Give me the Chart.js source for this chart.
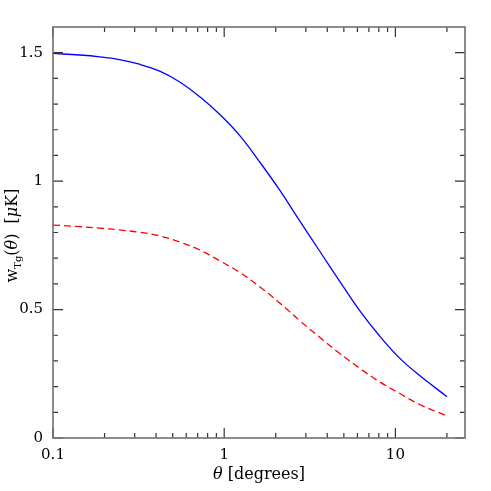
<!DOCTYPE html>
<html>
<head>
<meta charset="utf-8">
<script src="https://cdn.jsdelivr.net/npm/chart.js@4.4.0/dist/chart.umd.min.js"></script>
<style>
    html, body { margin: 0; padding: 0; background: #fff; }
</style>
</head>
<body>
<canvas id="chart" width="491" height="491"></canvas>
<script>
// angles in degrees
const theta = [0.1, 0.143, 0.187, 0.244, 0.32, 0.42, 0.55, 0.72, 0.94, 1.23, 1.61, 2.11, 2.75, 3.6, 4.71, 6.17, 8.07, 10.55, 13.8, 20];
// solid blue curve
const wSolid = [1.497, 1.491, 1.484, 1.473, 1.455, 1.428, 1.386, 1.328, 1.260, 1.178, 1.075, 0.965, 0.847, 0.729, 0.612, 0.497, 0.398, 0.312, 0.244, 0.161];
// dashed red curve
const wDashed = [0.829, 0.823, 0.817, 0.810, 0.801, 0.787, 0.763, 0.732, 0.690, 0.645, 0.589, 0.526, 0.458, 0.393, 0.330, 0.272, 0.219, 0.174, 0.131, 0.086];

const xMajorTicks = [0.1, 1, 10];
const xMinorTicks = [0.2, 0.3, 0.4, 0.5, 0.6, 0.7, 0.8, 0.9, 2, 3, 4, 5, 6, 7, 8, 9, 20];
const yMajorTicks = [0, 0.5, 1, 1.5];
const yMinorTicks = [0.1, 0.2, 0.3, 0.4, 0.6, 0.7, 0.8, 0.9, 1.1, 1.2, 1.3, 1.4];

const SERIF = "'DejaVu Serif', serif";

// frame, inward ticks on all four sides, axis titles
const framePlugin = {
    id: 'frame',
    afterDraw(chart) {
        const ctx = chart.ctx;
        const { left, right, top, bottom } = chart.chartArea;
        const xs = chart.scales.x;
        const ys = chart.scales.y;

        ctx.save();
        ctx.strokeStyle = '#333';
        ctx.lineWidth = 1.2;
        ctx.beginPath();
        const xTick = (v, len) => {
            const p = xs.getPixelForValue(v);
            ctx.moveTo(p, bottom); ctx.lineTo(p, bottom - len);
            ctx.moveTo(p, top); ctx.lineTo(p, top + len);
        };
        const yTick = (v, len) => {
            const p = ys.getPixelForValue(v);
            ctx.moveTo(left, p); ctx.lineTo(left + len, p);
            ctx.moveTo(right, p); ctx.lineTo(right - len, p);
        };
        xMajorTicks.forEach(v => xTick(v, 10));
        xMinorTicks.forEach(v => xTick(v, 5));
        yMajorTicks.forEach(v => yTick(v, 10));
        yMinorTicks.forEach(v => yTick(v, 5));
        ctx.stroke();

        ctx.strokeStyle = '#707070';
        ctx.lineWidth = 1.6;
        ctx.strokeRect(left, top, right - left, bottom - top);

        // x title
        ctx.fillStyle = '#000';
        ctx.textBaseline = 'middle';
        const xParts = [
            { t: 'θ', f: 'italic 16px ' + SERIF },
            { t: ' [degrees]', f: '16px ' + SERIF }
        ];
        let w = 0;
        xParts.forEach(p => { ctx.font = p.f; w += ctx.measureText(p.t).width; });
        let cx = (left + right) / 2 - w / 2;
        ctx.textAlign = 'left';
        xParts.forEach(p => {
            ctx.font = p.f;
            ctx.fillText(p.t, cx, 475);
            cx += ctx.measureText(p.t).width;
        });

        // y title, rotated, with subscript
        const yParts = [
            { t: 'w', f: '16px ' + SERIF, dy: 0 },
            { t: 'Tg', f: '10px ' + SERIF, dy: 5 },
            { t: '(', f: '16px ' + SERIF, dy: 0 },
            { t: 'θ', f: 'italic 16px ' + SERIF, dy: 0 },
            { t: ')  [', f: '16px ' + SERIF, dy: 0 },
            { t: 'μ', f: 'italic 16px ' + SERIF, dy: 0 },
            { t: 'K]', f: '16px ' + SERIF, dy: 0 }
        ];
        w = 0;
        yParts.forEach(p => { ctx.font = p.f; w += ctx.measureText(p.t).width; });
        ctx.translate(13, (top + bottom) / 2 + 3);
        ctx.rotate(-Math.PI / 2);
        cx = -w / 2;
        yParts.forEach(p => {
            ctx.font = p.f;
            ctx.fillText(p.t, cx, p.dy);
            cx += ctx.measureText(p.t).width;
        });
        ctx.restore();
    }
};

new Chart(document.getElementById('chart').getContext('2d'), {
    type: 'line',
    data: {
        datasets: [
            {
                data: theta.map((t, i) => ({ x: t, y: wSolid[i] })),
                borderColor: '#0000ff',
                borderWidth: 1.3,
                pointRadius: 0,
                tension: 0.4,
                fill: false
            },
            {
                data: theta.map((t, i) => ({ x: t, y: wDashed[i] })),
                borderColor: '#ff0000',
                borderWidth: 1.3,
                borderDash: [7, 4],
                pointRadius: 0,
                tension: 0.4,
                fill: false
            }
        ]
    },
    options: {
        responsive: false,
        animation: false,
        layout: { padding: { left: 0, right: 26, top: 27, bottom: 0 } },
        plugins: { legend: { display: false }, tooltip: { enabled: false } },
        scales: {
            x: {
                type: 'logarithmic',
                min: 0.1,
                max: 25.5,
                grid: { display: false, drawTicks: false },
                border: { display: false },
                afterBuildTicks: s => { s.ticks = xMajorTicks.map(v => ({ value: v })); },
                afterFit: s => { s.height = 53; },
                ticks: {
                    color: '#000',
                    padding: 8,
                    maxRotation: 0,
                    autoSkip: false,
                    font: { family: SERIF, size: 15 },
                    callback: v => String(v)
                }
            },
            y: {
                type: 'linear',
                min: 0,
                max: 1.6,
                grid: { display: false, drawTicks: false },
                border: { display: false },
                afterBuildTicks: s => { s.ticks = yMajorTicks.map(v => ({ value: v })); },
                afterFit: s => { s.width = 53; },
                ticks: {
                    color: '#000',
                    padding: 10,
                    autoSkip: false,
                    font: { family: SERIF, size: 15 },
                    callback: v => String(v)
                }
            }
        }
    },
    plugins: [framePlugin]
});
</script>
</body>
</html>
